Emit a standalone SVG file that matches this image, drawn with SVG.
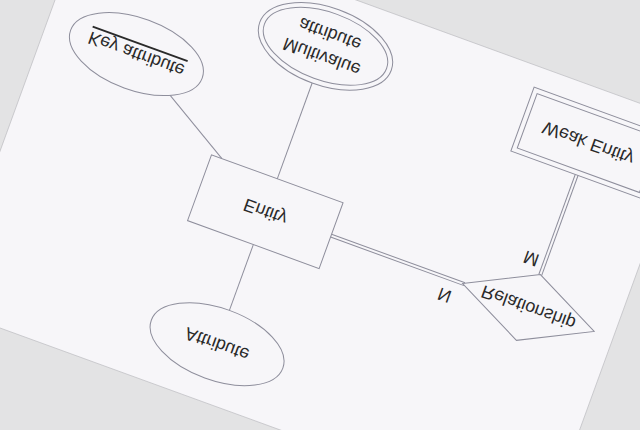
<svg xmlns="http://www.w3.org/2000/svg" width="640" height="430" viewBox="0 0 640 430">
  <style>
    .shape { fill: none; stroke: #8e8e9c; stroke-width: 1; }
    .conn { fill: none; stroke: #8e8e9c; stroke-width: 1; }
    .lbl { font-family: "Liberation Sans", Arial, sans-serif; font-size: 18px; fill: #2a2a2a; text-anchor: middle; dominant-baseline: central; }
  </style>
  <rect x="0" y="0" width="640" height="430" fill="#e3e3e4"/>
  <g transform="translate(265.3,211.7) rotate(20) scale(1,-1) translate(-270,-200)">
    <rect id="page" x="0" y="0" width="640" height="430" fill="#f7f6f9" stroke="#b8b8bc" stroke-width="0.6"/>
    <g id="connectors">
      <line class="conn" x1="211.1" y1="235" x2="140.8" y2="276.8"/>
      <line class="conn" x1="270" y1="235" x2="270" y2="337"/>
      <line class="conn" x1="270" y1="165" x2="270" y2="95"/>
      <line class="conn" x1="340" y1="198.5" x2="482" y2="198.5"/>
      <line class="conn" x1="340" y1="201.5" x2="482" y2="201.5"/>
      <line class="conn" x1="548.5" y1="234.5" x2="548.5" y2="341"/>
      <line class="conn" x1="551.5" y1="234.5" x2="551.5" y2="341"/>
      <text class="lbl" x="467" y="183">N</text>
      <text class="lbl" x="536" y="247">M</text>
    </g>
    <g id="entity">
      <rect class="shape" x="200" y="165" width="140" height="70"/>
      <text class="lbl" x="270" y="200">Entity</text>
    </g>
    <g id="key-attribute">
      <ellipse class="shape" cx="95" cy="304" rx="70" ry="36"/>
      <text class="lbl" x="95" y="304" text-decoration="underline">Key attribute</text>
    </g>
    <g id="multivalue-attribute">
      <ellipse class="shape" cx="270" cy="376" rx="70" ry="39"/>
      <ellipse class="shape" cx="270" cy="376" rx="65" ry="34"/>
      <text class="lbl" x="270" y="365">Multivalue</text>
      <text class="lbl" x="270" y="389">attribute</text>
    </g>
    <g id="attribute">
      <ellipse class="shape" cx="270" cy="59" rx="70" ry="36"/>
      <text class="lbl" x="270" y="59">Attribute</text>
    </g>
    <g id="weak-entity">
      <rect class="shape" x="480" y="341" width="140" height="68"/>
      <rect class="shape" x="485" y="346" width="130" height="58"/>
      <text class="lbl" x="550" y="375">Weak Entity</text>
    </g>
    <g id="relationship">
      <polygon class="shape" points="480,200 550,235 620,200 550,165"/>
      <text class="lbl" x="550" y="200">Relationship</text>
    </g>
  </g>
</svg>
